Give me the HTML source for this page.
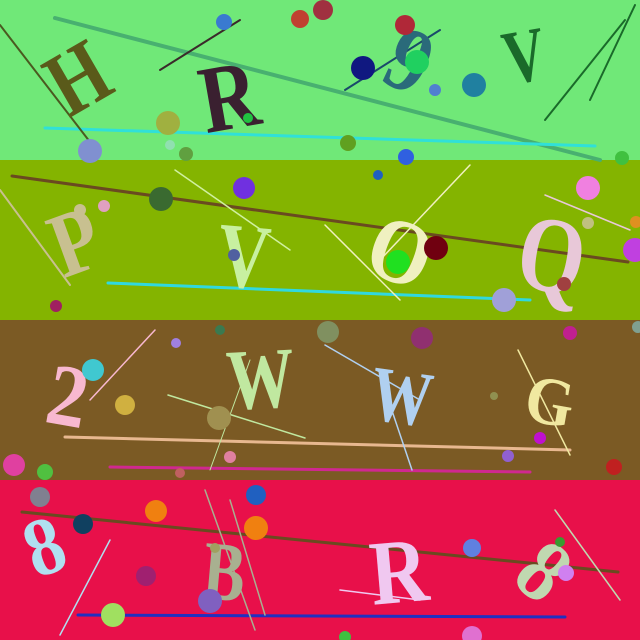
<!DOCTYPE html>
<html><head><meta charset="utf-8"><style>
html,body{margin:0;padding:0;width:640px;height:640px;overflow:hidden}
svg{display:block}
text{font-family:"Liberation Serif",serif;font-weight:bold}
</style></head><body>
<svg width="640" height="640" viewBox="0 0 640 640">
<rect x="0" y="0" width="640" height="160" fill="#70e878"/>
<rect x="0" y="160" width="640" height="160" fill="#84b400"/>
<rect x="0" y="320" width="640" height="160" fill="#7b5a24"/>
<rect x="0" y="480" width="640" height="160" fill="#e8104a"/>

<g stroke-linecap="round">
<line x1="55" y1="18" x2="600" y2="160" stroke="#48b070" stroke-width="4"/>
<line x1="45" y1="128" x2="595" y2="146" stroke="#30e0d8" stroke-width="3"/>
<line x1="0" y1="25" x2="100" y2="155" stroke="#4a5a20" stroke-width="2"/>
<line x1="160" y1="70" x2="240" y2="20" stroke="#3a2a2a" stroke-width="2"/>
<line x1="345" y1="90" x2="440" y2="30" stroke="#1a4a6a" stroke-width="2"/>
<line x1="545" y1="120" x2="625" y2="20" stroke="#1a6a2a" stroke-width="2"/>
<line x1="590" y1="100" x2="635" y2="5" stroke="#1a6a2a" stroke-width="2"/>
<line x1="12" y1="176" x2="628" y2="262" stroke="#6a4a20" stroke-width="3"/>
<line x1="108" y1="283" x2="530" y2="300" stroke="#30d8e0" stroke-width="3"/>
<line x1="0" y1="190" x2="70" y2="285" stroke="#c8c090" stroke-width="2"/>
<line x1="175" y1="170" x2="290" y2="250" stroke="#d0f0a0" stroke-width="1.5"/>
<line x1="325" y1="225" x2="400" y2="300" stroke="#f0f0c0" stroke-width="1.5"/>
<line x1="470" y1="165" x2="380" y2="260" stroke="#f0f0c0" stroke-width="1.5"/>
<line x1="545" y1="195" x2="630" y2="230" stroke="#e8c8d8" stroke-width="1.5"/>
<line x1="65" y1="437" x2="570" y2="450" stroke="#e8b890" stroke-width="3"/>
<line x1="110" y1="467" x2="530" y2="472" stroke="#d02890" stroke-width="3"/>
<line x1="90" y1="400" x2="155" y2="330" stroke="#f8b8d0" stroke-width="1.5"/>
<line x1="168" y1="395" x2="305" y2="438" stroke="#c0e8a0" stroke-width="1.5"/>
<line x1="325" y1="345" x2="420" y2="400" stroke="#b0d0f0" stroke-width="1.5"/>
<line x1="385" y1="390" x2="412" y2="470" stroke="#b0d0f0" stroke-width="1.5"/>
<line x1="518" y1="350" x2="570" y2="455" stroke="#f0e8a0" stroke-width="1.5"/>
<line x1="210" y1="470" x2="250" y2="360" stroke="#c0e8a0" stroke-width="1"/>
<line x1="22" y1="512" x2="618" y2="572" stroke="#6a4a20" stroke-width="3"/>
<line x1="78" y1="615" x2="565" y2="617" stroke="#2030c0" stroke-width="3"/>
<line x1="60" y1="635" x2="110" y2="540" stroke="#b0e0f0" stroke-width="1.5"/>
<line x1="205" y1="490" x2="255" y2="630" stroke="#a8b090" stroke-width="1.5"/>
<line x1="230" y1="500" x2="265" y2="615" stroke="#a8b090" stroke-width="1.5"/>
<line x1="555" y1="510" x2="620" y2="600" stroke="#c0d8b0" stroke-width="1.5"/>
<line x1="340" y1="590" x2="420" y2="600" stroke="#f0c8f0" stroke-width="1.5"/>
</g>

<g>
<text x="0" y="0" font-size="80" fill="#5a5a1a" transform="translate(75 75) rotate(-30) scale(0.9 1.15) translate(-30 30)">H</text>
<text x="0" y="0" font-size="80" fill="#3a2030" transform="translate(230 95) rotate(-10) scale(1 1.2) translate(-30 28)">R</text>
<text x="0" y="0" font-size="80" fill="#2a6a7a" transform="translate(412 60) rotate(25) scale(1 1.15) translate(-22 28)">9</text>
<text x="0" y="0" font-size="64" fill="#1a6a2a" transform="translate(525 55) rotate(-10) scale(0.9 1.2) translate(-24 22)">V</text>
<text x="0" y="0" font-size="80" fill="#c8c090" transform="translate(75 240) rotate(-20) scale(0.95 1.15) translate(-25 28)">P</text>
<text x="0" y="0" font-size="80" fill="#c8f0a0" transform="translate(245 255) rotate(5) scale(0.9 1.15) translate(-30 28)">V</text>
<text x="0" y="0" font-size="80" fill="#f0f0c0" transform="translate(400 250) rotate(20) scale(1 1.15) translate(-30 28)">O</text>
<text x="0" y="0" font-size="90" fill="#e8c8d8" transform="translate(550 255) rotate(10) scale(0.95 1.2) translate(-33 30)">Q</text>
<text x="0" y="0" font-size="80" fill="#f8b8d0" transform="translate(70 395) rotate(10) scale(1 1.1) translate(-22 28)">2</text>
<text x="0" y="0" font-size="75" fill="#c0e8a0" transform="translate(258 378) rotate(-3) scale(0.9 1.15) translate(-35 26)">W</text>
<text x="0" y="0" font-size="68" fill="#b0d0f0" transform="translate(400 395) rotate(8) scale(0.9 1.15) translate(-32 24)">W</text>
<text x="0" y="0" font-size="62" fill="#f0e8a0" transform="translate(550 400) rotate(10) scale(1 1.1) translate(-24 22)">G</text>
<text x="0" y="0" font-size="75" fill="#b0e0f0" transform="translate(45 545) rotate(-20) scale(1 1.1) translate(-20 26)">8</text>
<text x="0" y="0" font-size="70" fill="#a8b090" transform="translate(225 570) rotate(5) scale(0.9 1.2) translate(-24 25)">B</text>
<text x="0" y="0" font-size="80" fill="#f0c8f0" transform="translate(400 570) rotate(-5) scale(1 1.15) translate(-30 28)">R</text>
<text x="0" y="0" font-size="80" fill="#c0d8b0" transform="translate(545 570) rotate(40) scale(1 1.1) translate(-20 28)">8</text>
</g>

<g>
<circle cx="224" cy="22" r="8" fill="#3a7ad0"/><circle cx="300" cy="19" r="9" fill="#c04030"/>
<circle cx="323" cy="10" r="10" fill="#a03040"/><circle cx="405" cy="25" r="10" fill="#b02838"/>
<circle cx="363" cy="68" r="12" fill="#101880"/><circle cx="417" cy="62" r="12" fill="#20d060"/>
<circle cx="474" cy="85" r="12" fill="#2080a0"/><circle cx="435" cy="90" r="6" fill="#5080d0"/>
<circle cx="168" cy="123" r="12" fill="#a0b040"/><circle cx="90" cy="151" r="12" fill="#8090d0"/>
<circle cx="186" cy="154" r="7" fill="#60a040"/><circle cx="248" cy="118" r="5" fill="#20c040"/>
<circle cx="348" cy="143" r="8" fill="#60a020"/><circle cx="406" cy="157" r="8" fill="#3060e0"/>
<circle cx="622" cy="158" r="7" fill="#40c040"/><circle cx="170" cy="145" r="5" fill="#90e0b0"/>
<circle cx="161" cy="199" r="12" fill="#3a6a30"/><circle cx="244" cy="188" r="11" fill="#7030e0"/>
<circle cx="378" cy="175" r="5" fill="#2060c0"/><circle cx="104" cy="206" r="6" fill="#e0a0c0"/>
<circle cx="80" cy="210" r="6" fill="#c8c090"/><circle cx="234" cy="255" r="6" fill="#5060a0"/>
<circle cx="398" cy="262" r="12" fill="#20e020"/><circle cx="436" cy="248" r="12" fill="#700010"/>
<circle cx="588" cy="188" r="12" fill="#f080e0"/><circle cx="588" cy="223" r="6" fill="#c0c080"/>
<circle cx="635" cy="250" r="12" fill="#c040e0"/><circle cx="636" cy="222" r="6" fill="#e09020"/>
<circle cx="564" cy="284" r="7" fill="#a04040"/><circle cx="504" cy="300" r="12" fill="#a0a0d8"/>
<circle cx="56" cy="306" r="6" fill="#a02060"/>
<circle cx="93" cy="370" r="11" fill="#40c8d0"/><circle cx="125" cy="405" r="10" fill="#d0b040"/>
<circle cx="176" cy="343" r="5" fill="#a080e0"/><circle cx="220" cy="330" r="5" fill="#3a7a50"/>
<circle cx="328" cy="332" r="11" fill="#809060"/><circle cx="422" cy="338" r="11" fill="#903070"/>
<circle cx="219" cy="418" r="12" fill="#a09050"/><circle cx="230" cy="457" r="6" fill="#e080a0"/>
<circle cx="494" cy="396" r="4" fill="#909050"/><circle cx="570" cy="333" r="7" fill="#c02090"/>
<circle cx="540" cy="438" r="6" fill="#c010d0"/><circle cx="508" cy="456" r="6" fill="#9060d0"/>
<circle cx="14" cy="465" r="11" fill="#e040a0"/><circle cx="45" cy="472" r="8" fill="#50c040"/>
<circle cx="180" cy="473" r="5" fill="#c06060"/><circle cx="614" cy="467" r="8" fill="#c02020"/>
<circle cx="638" cy="327" r="6" fill="#80a090"/>
<circle cx="40" cy="497" r="10" fill="#808090"/><circle cx="83" cy="524" r="10" fill="#104060"/>
<circle cx="156" cy="511" r="11" fill="#f08010"/><circle cx="256" cy="495" r="10" fill="#2060c0"/>
<circle cx="256" cy="528" r="12" fill="#f08010"/><circle cx="215" cy="548" r="5" fill="#a0a060"/>
<circle cx="146" cy="576" r="10" fill="#a02070"/><circle cx="210" cy="601" r="12" fill="#8060c0"/>
<circle cx="113" cy="615" r="12" fill="#a0e060"/><circle cx="472" cy="548" r="9" fill="#6080e0"/>
<circle cx="560" cy="542" r="5" fill="#3a9a30"/><circle cx="566" cy="573" r="8" fill="#d080f0"/>
<circle cx="345" cy="637" r="6" fill="#40c040"/><circle cx="472" cy="636" r="10" fill="#e070d0"/>
</g>
</svg>
</body></html>
